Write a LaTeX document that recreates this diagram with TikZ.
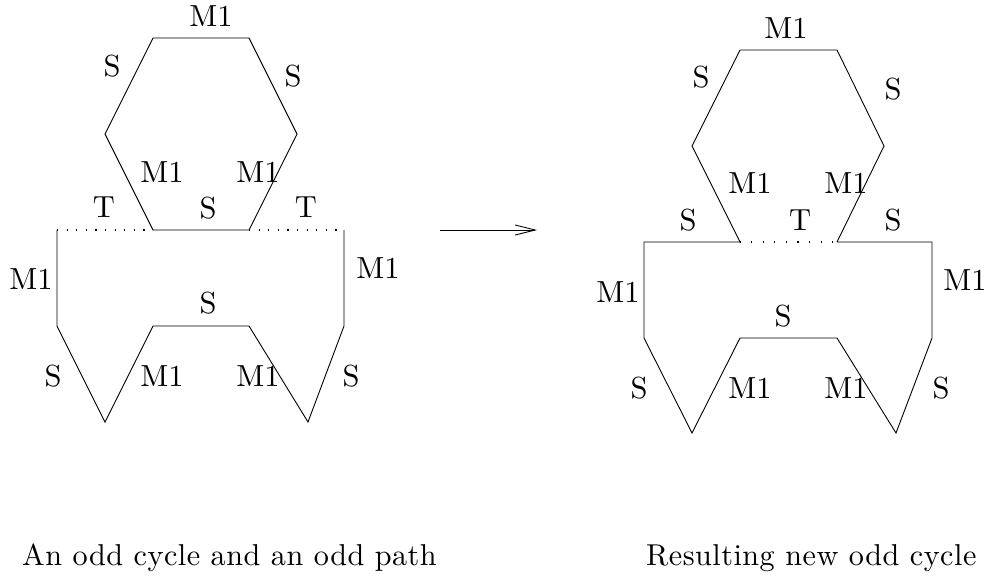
\documentclass[tikz,border=0pt]{standalone}
\usepackage{fontspec}
\setmainfont{lmroman10-regular}[Extension=.otf]
\newfontfamily\lblfont{lmroman10-regular}[Extension=.otf]
\newfontfamily\capfont{lmroman10-regular}[Extension=.otf,LetterSpace=1.6]
\usetikzlibrary{arrows.meta}
\begin{document}
\begin{tikzpicture}[x=1pt,y=-1pt,
  edge/.style={line width=0.9pt, line join=miter},
  dotline/.style={line width=1.1pt, dash pattern=on 1.1pt off 8.5pt},
  lbl/.style={inner sep=0pt, font=\lblfont\fontsize{30.5}{36}\selectfont},
  captext/.style={inner sep=0pt, anchor=base west, font=\capfont\fontsize{30.2}{36}\selectfont}]
\useasboundingbox (0,0) rectangle (992,579);

% ---------- left figure ----------
\coordinate (a1) at (153,38);
\coordinate (a2) at (249,38);
\coordinate (a3) at (297,134);
\coordinate (a4) at (249,230);
\coordinate (a5) at (153,230);
\coordinate (a6) at (105,134);
\coordinate (b1) at (57,230);
\coordinate (b2) at (57,326);
\coordinate (b3) at (105,422);
\coordinate (b4) at (153,326);
\coordinate (b5) at (249,326);
\coordinate (b6) at (308,422);
\coordinate (b7) at (344,326);
\coordinate (b8) at (344,230);

\draw[edge] (a1) -- (a2) -- (a3) -- (a4) -- (a5) -- (a6) -- cycle;
\draw[edge] (b1) -- (b2) -- (b3) -- (b4) -- (b5) -- (b6) -- (b7) -- (b8);
\draw[dotline] (b1) -- (a5);
\draw[dotline] (a4) -- (b8);

\node[lbl] (l1)  at (211,16)  {M1};
\node[lbl] (l2)  at (112,66)  {S};
\node[lbl] (l3)  at (293,76)  {S};
\node[lbl] (l4)  at (162,172) {M1};
\node[lbl] (l5)  at (258,172) {M1};
\node[lbl] (l6)  at (104,207) {T};
\node[lbl] (l7)  at (208,208) {S};
\node[lbl] (l8)  at (306,207) {T};
\node[lbl] (l9)  at (31,279)  {M1};
\node[lbl] (l10) at (378,268) {M1};
\node[lbl] (l11) at (208,303) {S};
\node[lbl] (l12) at (53,376)  {S};
\node[lbl] (l13) at (162,376) {M1};
\node[lbl] (l14) at (258,376) {M1};
\node[lbl] (l15) at (351,376) {S};

% ---------- arrow ----------
\coordinate (e1) at (440,230);
\coordinate (e2) at (537,230);
\draw[edge, -{Straight Barb[length=20pt,width=10pt,line width=0.9pt]}] (e1) -- (e2);

% ---------- right figure ----------
\coordinate (c1) at (740,50);
\coordinate (c2) at (837,50);
\coordinate (c3) at (884,146);
\coordinate (c4) at (837,242);
\coordinate (c5) at (740,242);
\coordinate (c6) at (692,146);
\coordinate (d1) at (644,242);
\coordinate (d2) at (644,338);
\coordinate (d3) at (692,433);
\coordinate (d4) at (740,338);
\coordinate (d5) at (837,338);
\coordinate (d6) at (896,433);
\coordinate (d7) at (932,338);
\coordinate (d8) at (932,242);

\draw[edge] (c4) -- (c3) -- (c2) -- (c1) -- (c6) -- (c5) -- (d1) -- (d2) -- (d3) -- (d4) -- (d5) -- (d6) -- (d7) -- (d8) -- (c4);
\draw[dotline, dash pattern=on 1.1pt off 10.5pt, dash phase=-11pt] (c5) -- (c4);

\node[lbl] (r1)  at (786,28)  {M1};
\node[lbl] (r2)  at (701,77)  {S};
\node[lbl] (r3)  at (893,89)  {S};
\node[lbl] (r4)  at (750,183) {M1};
\node[lbl] (r5)  at (846,183) {M1};
\node[lbl] (r6)  at (688,220) {S};
\node[lbl] (r7)  at (800,220) {T};
\node[lbl] (r8)  at (893,220) {S};
\node[lbl] (r9)  at (618,292) {M1};
\node[lbl] (r10) at (965,280) {M1};
\node[lbl] (r11) at (783,316) {S};
\node[lbl] (r12) at (639,388) {S};
\node[lbl] (r13) at (750,388) {M1};
\node[lbl] (r14) at (846,388) {M1};
\node[lbl] (r15) at (941,388) {S};

% ---------- captions ----------
\node[captext] (cap1) at (22,565)  {An odd cycle and an odd path};
\node[captext] (cap2) at (646,565) {Resulting new odd cycle};
\end{tikzpicture}
\end{document}
